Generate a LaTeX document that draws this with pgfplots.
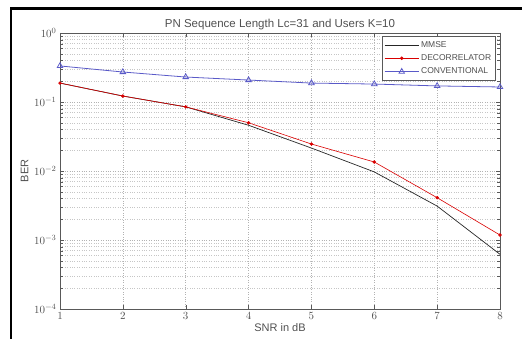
\documentclass[border=0pt]{standalone}
\usepackage{fontspec}
\setmainfont{Liberation Sans}
\usepackage{pgfplots}
\pgfplotsset{compat=1.18}
\definecolor{convblue}{RGB}{90,90,200}
\definecolor{txtgray}{RGB}{80,80,80}
\begin{document}
\begin{tikzpicture}[x=1pt,y=1pt]
\path[use as bounding box] (0,0) rectangle (522,339);
\draw[line width=2.5pt] (11,0) -- (11,330.5) -- (522,330.5);
\begin{axis}[
  at={(60pt,30pt)}, anchor=south west,
  scale only axis, width=440pt, height=276pt,
  ymode=log, xmin=1, xmax=8, ymin=1e-4, ymax=1,
  xtick={1,...,8},
  ytick={1e-4,1e-3,1e-2,1e-1,1},
  grid=both,
  major grid style={dotted, gray!60, line width=0.5pt},
  minor grid style={dotted, gray!45, line width=0.4pt},
  axis line style={gray!70!black, line width=0.9pt},
  tick style={gray!70!black},
  tick label style={font=\fontsize{11}{12}\selectfont, text=txtgray},
  title={PN Sequence Length Lc=31 and Users K=10},
  title style={font=\fontsize{11.5}{13}\selectfont, text=txtgray, yshift=-6pt},
  xlabel={SNR in dB},
  ylabel={BER},
  label style={font=\fontsize{11}{12}\selectfont, text=txtgray},
  xlabel style={yshift=3pt},
  ylabel style={yshift=-1pt},
  legend style={at={(0.99,0.99)}, anchor=north east, font=\fontsize{8.5}{9}\selectfont, text=txtgray,
    draw=gray!70!black, line width=0.8pt, row sep=2pt, inner xsep=2pt, inner ysep=3pt, cells={anchor=west}},
  legend image code/.code={%
    \draw[mark repeat=2, mark phase=2, #1] plot coordinates {(0pt,0pt) (17pt,0pt) (34pt,0pt)};},
]
\addplot[black!85, line width=0.7pt] coordinates {
(1,0.188) (2,0.122) (3,0.085) (4,0.046) (5,0.0215) (6,0.0097) (7,0.0031) (8,0.00062)};
\addlegendentry{MMSE}
\addplot[red!85!black, line width=0.6pt, mark=*, mark size=1.4pt, mark options={fill=red!85!black}] coordinates {
(1,0.188) (2,0.122) (3,0.085) (4,0.050) (5,0.0246) (6,0.0135) (7,0.0041) (8,0.00118)};
\addlegendentry{DECORRELATOR}
\addplot[convblue, line width=0.8pt, mark=triangle, mark size=3.2pt, mark options={solid, line width=0.8pt}] coordinates {
(1,0.333) (2,0.272) (3,0.230) (4,0.208) (5,0.188) (6,0.182) (7,0.171) (8,0.165)};
\addlegendentry{CONVENTIONAL}
\end{axis}
\end{tikzpicture}
\end{document}
